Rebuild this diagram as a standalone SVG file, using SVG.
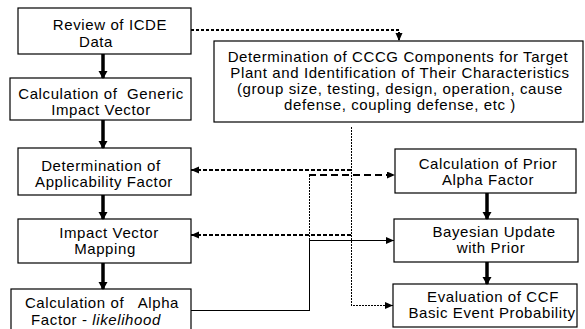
<svg xmlns="http://www.w3.org/2000/svg" width="585" height="329" viewBox="0 0 585 329">
<defs>
<style>
.box{fill:#fff;stroke:#000;stroke-width:1.2}
text{font-family:"Liberation Sans",Arial,sans-serif;font-size:15px;letter-spacing:0.6px;fill:#000;text-anchor:middle}
.c{fill:none;stroke:#000;stroke-width:1.2;shape-rendering:crispEdges}
.d1{stroke-dasharray:3,2;stroke-width:2}
.d2{stroke-dasharray:4,2;stroke-width:2}
.d3{stroke-dasharray:7,4;stroke-width:2.5}
.d4{stroke-dasharray:2,1}
.thick{stroke:#000;stroke-width:3.5}
</style>
<marker id="ah" markerUnits="userSpaceOnUse" markerWidth="9" markerHeight="8" refX="8" refY="3.5" orient="auto">
<path d="M0,0 L8,3.5 L0,7 z" fill="#000"/>
</marker>
<marker id="big" markerUnits="userSpaceOnUse" markerWidth="10" markerHeight="10" refX="7" refY="4.5" orient="auto">
<path d="M0,0 L8,4.5 L0,9 z" fill="#000"/>
</marker>
</defs>

<g id="n1"><rect class="box" x="18" y="8" width="173" height="46"/>
<text x="110" y="30">Review of ICDE</text><text x="96" y="47">Data</text></g>
<g id="n2"><rect class="box" x="10" y="78" width="181" height="42"/>
<text x="101" y="99" xml:space="preserve">Calculation of  Generic</text><text x="101" y="115">Impact Vector</text></g>
<g id="n3"><rect class="box" x="18" y="148" width="173" height="47"/>
<text x="101" y="171">Determination of</text><text x="104" y="187">Applicability Factor</text></g>
<g id="n4"><rect class="box" x="18" y="219" width="173" height="44"/>
<text x="109" y="238">Impact Vector</text><text x="105" y="254">Mapping</text></g>
<g id="n5"><rect class="box" x="11" y="289" width="180" height="50"/>
<text x="102" y="308" xml:space="preserve">Calculation of   Alpha</text><text x="96" y="325">Factor - <tspan font-style="italic">likelihood</tspan></text></g>
<g id="n6"><rect class="box" x="214" y="41" width="369" height="81"/>
<text x="398" y="62">Determination of CCCG Components for Target</text>
<text x="400" y="78">Plant and Identification of Their Characteristics</text>
<text x="400" y="94">(group size, testing, design, operation, cause</text>
<text x="400" y="110">defense, coupling defense, etc )</text></g>
<g id="n7"><rect class="box" x="395" y="149" width="181" height="44"/>
<text x="488" y="169">Calculation of Prior</text><text x="488" y="185">Alpha Factor</text></g>
<g id="n8"><rect class="box" x="394" y="219" width="184" height="43"/>
<text x="494" y="237">Bayesian Update</text><text x="491" y="253">with Prior</text></g>
<g id="n9"><rect class="box" x="393" y="284" width="184" height="43"/>
<text x="493" y="302">Evaluation of CCF</text><text x="492" y="318">Basic Event Probability</text></g>

<g id="connectors">
<line class="thick" x1="103" y1="54" x2="103" y2="78" marker-end="url(#big)"/>
<line class="thick" x1="103" y1="120" x2="103" y2="148" marker-end="url(#big)"/>
<line class="thick" x1="103" y1="195" x2="103" y2="219" marker-end="url(#big)"/>
<line class="thick" x1="103" y1="263" x2="103" y2="289" marker-end="url(#big)"/>
<line class="thick" x1="487" y1="193" x2="487" y2="219" marker-end="url(#big)"/>
<line class="thick" x1="487" y1="262" x2="487" y2="284" marker-end="url(#big)"/>
<path class="c d1" d="M191,30 H399 V41" marker-end="url(#ah)"/>
<path class="c d4" d="M351.5,127 V305.5 H393" marker-end="url(#ah)"/>
<path class="c d2" d="M351,170 H191" marker-end="url(#ah)"/>
<path class="c d2" d="M351,235 H191" marker-end="url(#ah)"/>
<path class="c d3" d="M309,175 H395" marker-end="url(#ah)"/>
<path class="c d4" d="M309.5,175 V240"/>
<path class="c" d="M191,310.5 H309.5 V240.5 H394" marker-end="url(#ah)"/>
</g>
</svg>
